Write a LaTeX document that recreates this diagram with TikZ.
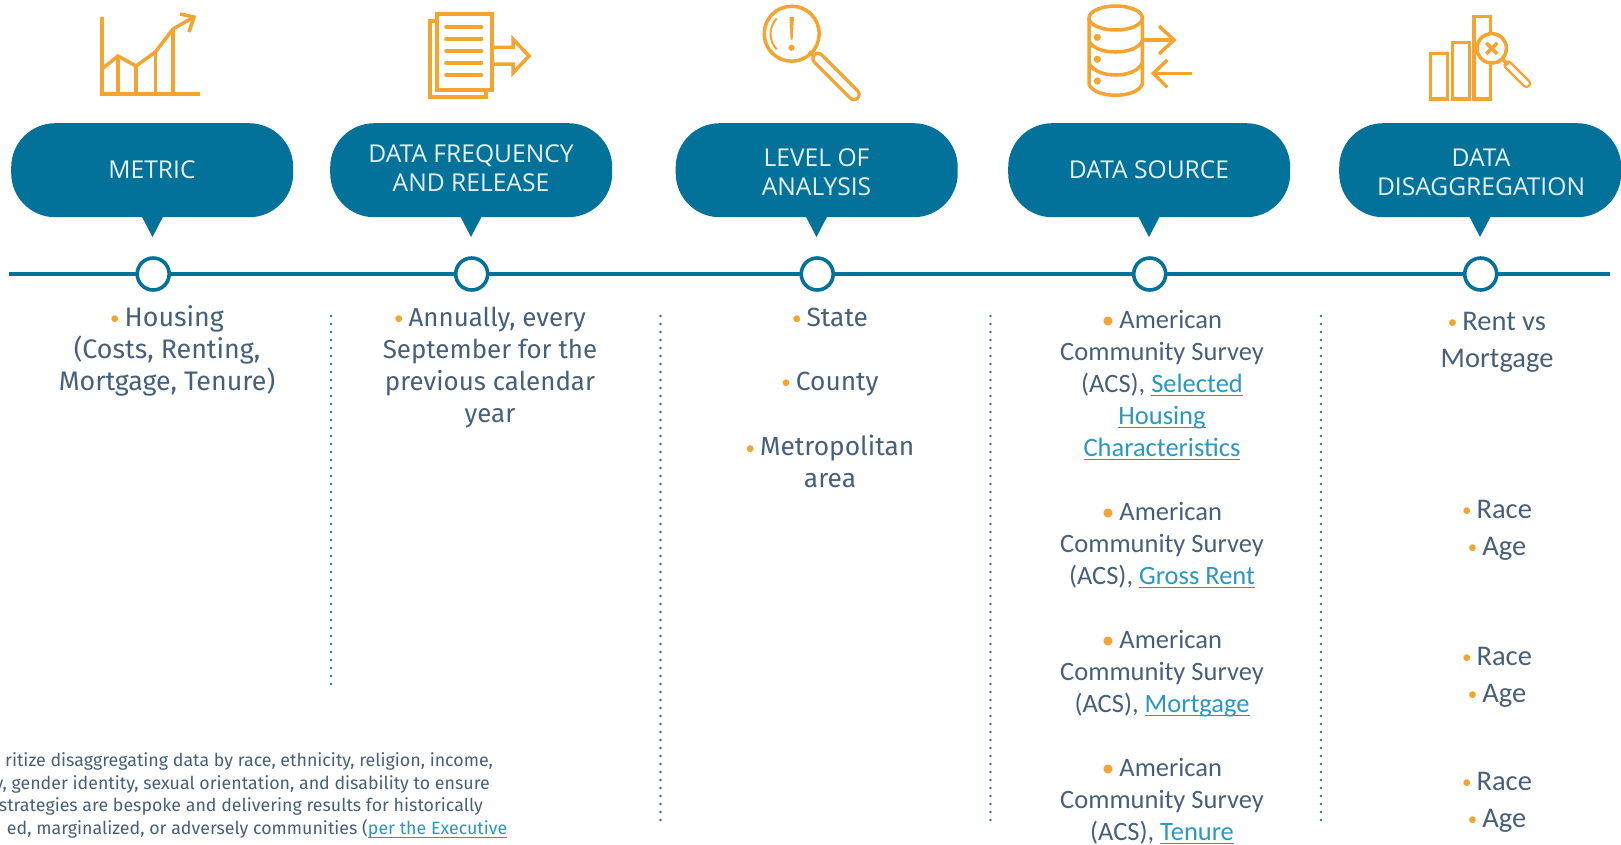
\documentclass[tikz,border=0pt]{standalone}
\usepackage{fontspec}
\setmainfont{Fira Sans}
\newfontfamily\headf{Open Sans}
\newfontfamily\calf{Carlito}
\newfontfamily\firaf{Fira Sans}
\definecolor{teal1}{HTML}{03729B}
\definecolor{orng}{HTML}{F5A42F}
\definecolor{bodyc}{HTML}{46607A}
\definecolor{linkc}{HTML}{2A98C2}
\definecolor{headc}{HTML}{E6F0F4}
\definecolor{dotc}{HTML}{2F7199}
\newcommand{\blta}{{\color{orng}\calf\fontsize{19}{19}\selectfont\raisebox{1.5pt}{•}}\hspace{5pt}}
\newcommand{\bltb}{{\color{orng}\calf\fontsize{25}{25}\selectfont\raisebox{0pt}{•}}\hspace{5pt}}
\newcommand{\lnk}[1]{{\color{linkc}\setbox0=\hbox{#1}\rlap{\raisebox{-4.4pt}{\rule{\wd0}{1.3pt}}}\box0}}
\tikzset{
  x=1pt,y=-1pt,
  bubble/.style={fill=teal1,rounded corners=44pt,minimum width=282pt,minimum height=94pt,inner sep=0pt,anchor=north west},
  tipshape/.style={fill=teal1},
  headtxt/.style={anchor=base,align=center,inner sep=0pt,text=headc,font=\headf\fontsize{24.6}{29}\selectfont},
  stop/.style={circle,draw=teal1,fill=white,line width=3.6pt,minimum size=32pt,inner sep=0pt},
  axisline/.style={draw=teal1,line width=4pt},
  sep/.style={draw=dotc,line width=2.6pt,line cap=round,dash pattern=on 0pt off 8pt},
  firatxt/.style={anchor=base,align=center,inner sep=0pt,text=bodyc,font=\firaf\fontsize{26.3}{32}\selectfont},
  caltxt/.style={anchor=base,align=center,inner sep=0pt,text=bodyc,font=\calf\fontsize{26.5}{32}\selectfont},
  racetxt/.style={anchor=base,align=center,inner sep=0pt,text=bodyc,font=\calf\fontsize{28.5}{32}\selectfont},
  footline/.style={anchor=base east,inner sep=0pt,text=bodyc,font=\firaf\fontsize{17.8}{22}\selectfont},
  icon/.style={draw=orng,line width=3.5pt,line join=miter},
}
\begin{document}
\begin{tikzpicture}
\useasboundingbox (0,0) rectangle (1621,844);
% timeline
\coordinate (tlstart) at (9,274);
\coordinate (tlend) at (1610,274);
\draw[axisline] (tlstart) -- (tlend);
% bubbles
\foreach \nm/\xl/\xt in {b1/11/152.5, b2/330/471, b3/675.5/816.5, b4/1008/1149, b5/1339/1480}{
  \node[bubble] (\nm) at (\xl,123) {};
  \coordinate (\nm tip) at (\xt,237);
  \fill[tipshape] (\xt-11.5,215) -- (\xt+11.5,215) -- (\nm tip) -- cycle;
  \node[stop] (\nm stop) at (\xt+0.7,274) {};
}
\node[headtxt] (h1) at (152,178) {METRIC};
\node[headtxt] (h2) at (471,191.2) {DATA FREQUENCY\\AND RELEASE};
\node[headtxt] (h3) at (816.5,195) {LEVEL OF\\ANALYSIS};
\node[headtxt] (h4) at (1149,178) {DATA SOURCE};
\node[headtxt] (h5) at (1481,195) {DATA\\DISAGGREGATION};
% separators
\foreach \nm/\xx/\yy in {s1/331/685, s2/660.5/822, s3/990.5/822, s4/1321/822}{
  \coordinate (\nm a) at (\xx,316);
  \coordinate (\nm b) at (\xx,\yy);
  \draw[sep] (\nm a) -- (\nm b);
}
% column 1-3
\node[firatxt,font=\firaf\fontsize{26.8}{32}\selectfont] (t1) at (167,390) {\blta Housing\\(Costs, Renting,\\Mortgage, Tenure)};
\node[firatxt,font=\firaf\fontsize{25.9}{32}\selectfont] (t2) at (490,422) {\blta Annually, every\\September for the\\previous calendar\\year};
\node[firatxt] (t3a) at (830,326) {\blta State};
\node[firatxt] (t3b) at (830,390) {\blta County};
\node[firatxt] (t3c) at (830,487.5) {\blta Metropolitan\\area};
% column 4
\node[caltxt] (t4a) at (1162,456) {\bltb American\\Community Survey\\(ACS), \lnk{Selected}\\\lnk{Housing}\\\lnk{Characteristics}};
\node[caltxt] (t4b) at (1162,584) {\bltb American\\Community Survey\\(ACS), \lnk{Gross Rent}};
\node[caltxt] (t4c) at (1162,712) {\bltb American\\Community Survey\\(ACS), \lnk{Mortgage}};
\node[caltxt] (t4d) at (1162,840) {\bltb American\\Community Survey\\(ACS), \lnk{Tenure}};
% column 5
\node[racetxt] (r1a) at (1497,330) {\blta Rent vs};
\node[racetxt] (r1b) at (1497,367) {Mortgage};
\foreach \nm/\ya/\yb in {r2/518/555, r3/665/702, r4/790/827}{
  \node[racetxt] (\nm a) at (1497,\ya) {\blta Race};
  \node[racetxt] (\nm b) at (1497,\yb) {\blta Age};
}
% footnote
\node[footline] (f1) at (493,766.7) {ritize disaggregating data by race, ethnicity, religion, income,};
\node[footline] (f2) at (490,789) {y, gender identity, sexual orientation, and disability to ensure};
\node[footline] (f3) at (483,811.5) {strategies are bespoke and delivering results for historically};
\node[footline] (f4) at (507.5,834) {ed, marginalized, or adversely communities (\lnk{per the Executive}};
% icon 1
\draw[icon] (102,17) -- (102,94) -- (200,94);
\draw[icon] (102,69) -- (118,56) -- (136,66) -- (155.4,52) -- (173,29) -- (194,17);
\draw[icon] (180,14) -- (194,17) -- (189,32);
\foreach \xx/\yy in {118/56,136/66,155.4/52,173/29} \draw[icon] (\xx,\yy) -- (\xx,94);
% icon 2
\draw[icon] (437,14) rectangle (492,90);
\draw[icon] (437,21) -- (430,21) -- (430,97) -- (486,97) -- (486,90);
\foreach \yy in {26.7,38.7,50.7,62.7,74.7} \draw[icon,line width=3.6pt,line cap=round] (446,\yy) -- (481.5,\yy);
\draw[icon] (492,47.3) -- (513,47.3) -- (513,39) -- (529,56) -- (513,73) -- (513,64) -- (492,64);
% icon 3
\draw[icon] (791.7,33.7) circle (27.5);
\fill[orng] (789.4,17) -- (794,17) -- (792.6,39.5) -- (790.6,39.5) -- cycle;
\fill[orng] (791.5,47.7) circle (3.1);
\draw[icon,line width=2pt] (776.7,18.3) .. controls (768.5,27) and (768.5,41) .. (776.7,49.3);
\draw[icon] (809,51.7) -- (815,57.3);
\draw[orng,line width=13.5pt,line cap=round] (818,58.5) -- (854,94.5);
\draw[white,line width=7pt,line cap=round] (818,58.5) -- (854,94.5);
% icon 4
\draw[icon] (1115.7,18) ellipse (26.7 and 12);
\draw[icon] (1089,18) -- (1089,84) .. controls (1094,99) and (1137,99) .. (1142.3,84) -- (1142.3,18);
\draw[icon] (1089,41) .. controls (1096,55.7) and (1135,55.7) .. (1142.3,41);
\draw[icon] (1089,63) .. controls (1096,79) and (1135,79) .. (1142.3,63);
\foreach \yy in {37.3,59.3,81} \fill[orng] (1097.3,\yy) circle (3.6);
\draw[icon] (1142.3,40) -- (1174,40);
\draw[icon] (1159,26) -- (1174,40) -- (1159,54);
\draw[icon] (1192.3,73.3) -- (1153.3,73.3);
\draw[icon] (1167.3,60) -- (1153.3,73.3) -- (1167.3,87.3);
% icon 5
\draw[icon] (1430.7,53.3) rectangle (1447.3,99);
\draw[icon] (1452.7,42.7) rectangle (1469.3,99);
\draw[icon] (1474,16.7) rectangle (1490.7,99);
\draw[orng,line width=9.5pt,line cap=round] (1508,65) -- (1526.5,83.5);
\draw[white,line width=4.5pt,line cap=round] (1508,65) -- (1526.5,83.5);
\draw[icon] (1503,59.5) -- (1508,65);
\draw[icon,fill=white] (1491.7,48.3) circle (14.7);
\draw[icon] (1486.2,42.8) -- (1497.2,53.8);
\draw[icon] (1497.2,42.8) -- (1486.2,53.8);
\end{tikzpicture}
\end{document}
